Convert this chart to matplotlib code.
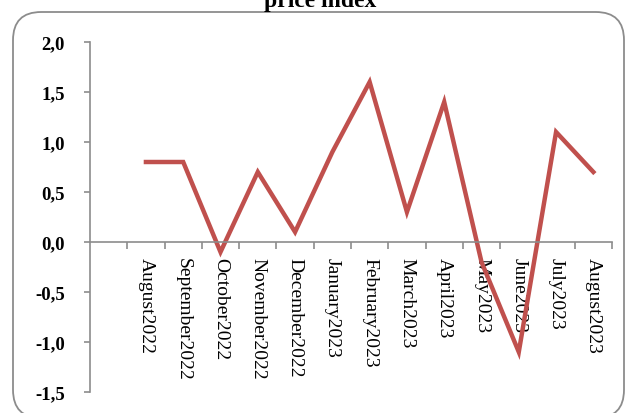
import matplotlib
matplotlib.use("Agg")
import matplotlib.pyplot as plt
from matplotlib.patches import FancyBboxPatch
from matplotlib.ticker import FixedLocator, FuncFormatter

# Monthly change of the price index (%)
months = ["", "August2022", "September2022", "October2022", "November2022",
          "December2022", "January2023", "February2023", "March2023",
          "April2023", "May2023", "June2023", "July2023", "August2023"]
values = [0.8, 0.8, -0.1, 0.7, 0.1, 0.9, 1.6, 0.3, 1.4, -0.2, -1.1, 1.1, 0.7]
y_ticks = [-1.5, -1.0, -0.5, 0.0, 0.5, 1.0, 1.5, 2.0]
title = "price index"

W, H = 626, 414
fig = plt.figure(figsize=(W / 100, H / 100), dpi=100)
fig.patch.set_facecolor("white")

# rounded frame around the chart area
x0, y0, x1, y1 = 13, 13, 624, 419
frame = FancyBboxPatch((x0 / W, 1 - y1 / H), (x1 - x0) / W, (y1 - y0) / H,
                       boxstyle="round,pad=0,rounding_size=0.045",
                       transform=fig.transFigure, facecolor="none",
                       edgecolor="#8c8c8c", linewidth=1.3, mutation_aspect=W / H)
fig.patches.append(frame)

fig.text(320 / W, 1 - 1 / H, title, ha="center", va="center",
         fontsize=17, fontweight="bold", family="Liberation Serif")

ax = fig.add_axes([90 / W, 1 - 393 / H, (612 - 90) / W, (393 - 43) / H])
ax.set_facecolor("none")

xs = list(range(1, len(values) + 1))
ax.plot(xs, values, color="#C0504D", linewidth=3.2, solid_joinstyle="miter")

ax.set_xlim(-0.5, len(months) - 0.5)
ax.set_ylim(-1.5, 2.0)

for s in ["top", "right"]:
    ax.spines[s].set_visible(False)
ax.spines["left"].set_color("#8c8c8c")
ax.spines["bottom"].set_color("#8c8c8c")
ax.spines["left"].set_linewidth(1.2)
ax.spines["bottom"].set_linewidth(1.2)
ax.spines["bottom"].set_position(("data", 0))

ax.set_yticks(y_ticks)
ax.yaxis.set_major_formatter(FuncFormatter(lambda v, p: f"{v:.1f}".replace(".", ",")))
ax.tick_params(axis="y", length=4, width=1.2, color="#8c8c8c", pad=14,
               labelsize=13.5)
for lab in ax.get_yticklabels():
    lab.set_family("Liberation Serif")
    lab.set_fontweight("bold")

ax.set_xticks(range(len(months)))
ax.set_xticklabels(months, rotation=270, ha="center", va="top",
                   family="Liberation Serif", fontsize=14)
ax.tick_params(axis="x", which="major", length=0, pad=11)
ax.xaxis.set_minor_locator(FixedLocator([k + 0.5 for k in range(len(months))]))
ax.tick_params(axis="x", which="minor", length=5, width=1.2, color="#8c8c8c",
               direction="out")

fig.savefig("out.png", dpi=100)
